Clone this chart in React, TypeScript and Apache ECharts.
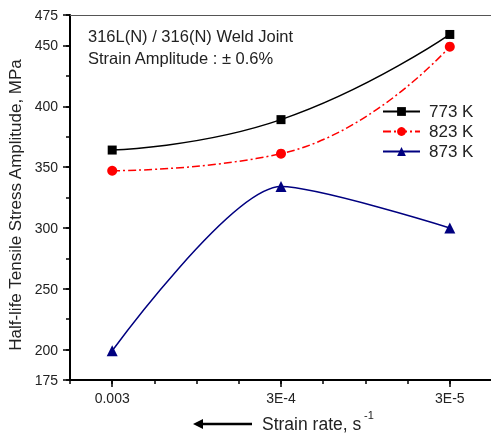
import React, { useEffect, useRef } from 'react';
import * as echarts from 'echarts';

const strainRates = ['0.003', '3E-4', '3E-5'];
const xTickLabels = ['', '0.003', '', '', '', '3E-4', '', '', '', '3E-5', ''];
const yTickLabels = ['175', '200', '', '250', '', '300', '', '350', '', '400', '', '450', '475'];
const yTickValues = [175, 200, 225, 250, 275, 300, 325, 350, 375, 400, 425, 450, 475];
const seriesNames = ['773 K', '823 K', '873 K'];
const stress773 = [364, 389, 459];
const stress823 = [347, 361, 449];
const stress873 = [199, 334, 300];
const noteLines = ['316L(N) / 316(N) Weld Joint', 'Strain Amplitude : \u00B1 0.6%'];
const yTitle = 'Half-life Tensile Stress Amplitude, MPa';
const xTitle = 'Strain rate, s';
const xTitleSup = '-1';

const FONT = 'Liberation Sans, Arial, sans-serif';
const TXT = '#222';

export default function App() {
  const ref = useRef<HTMLDivElement>(null);
  useEffect(() => {
    if (!ref.current) return;
    const chart = echarts.init(ref.current, undefined, { renderer: 'svg' });
    const toPts = (vals: number[]) =>
      vals.map((v, i) => [xTickLabels.indexOf(strainRates[i]), v]);
    const xCat = xTickLabels.map((_, i) => 'x' + i);
    const yCat = yTickValues.map((v) => String(v));
    const xMax = xTickLabels.length - 1;
    const yMin = yTickValues[0];
    const yMax = yTickValues[yTickValues.length - 1];
    chart.setOption({
      animation: false,
      textStyle: { fontFamily: FONT },
      grid: { left: 70, top: 15, width: 422, height: 365, containLabel: false, outerBoundsMode: 'none' },
      legend: {
        orient: 'vertical',
        left: 382,
        top: 103,
        padding: 0,
        itemWidth: 37,
        itemHeight: 11,
        itemGap: 3,
        data: seriesNames,
        textStyle: { fontSize: 17, color: TXT, fontFamily: FONT, padding: [0, 0, 0, 4] },
      },
      xAxis: [
        {
          type: 'value', min: 0, max: xMax, interval: 1, position: 'bottom',
          axisLine: { show: true, lineStyle: { color: '#000', width: 2 } },
          axisTick: { show: true, length: 4, lineStyle: { color: '#000', width: 1.5 } },
          axisLabel: { show: false }, splitLine: { show: false },
        },
        {
          type: 'category', data: xCat, boundaryGap: false, position: 'bottom',
          axisLine: { show: false },
          axisTick: { show: true, length: 7, interval: (i: number) => xTickLabels[i] !== '', lineStyle: { color: '#000', width: 1.5 } },
          axisLabel: {
            interval: 0, fontSize: 14, color: TXT, margin: 11, fontFamily: FONT,
            formatter: (v: string) => xTickLabels[Number(v.slice(1))],
          },
          splitLine: { show: false },
        },
        {
          type: 'value', min: 0, max: xMax, position: 'top',
          axisLine: { show: true, lineStyle: { color: '#555', width: 1 } },
          axisTick: { show: false }, axisLabel: { show: false }, splitLine: { show: false },
        },
      ],
      yAxis: [
        {
          type: 'value', min: yMin, max: yMax, interval: 25, position: 'left',
          axisLine: { show: true, lineStyle: { color: '#000', width: 2 } },
          axisTick: { show: true, length: 4, lineStyle: { color: '#000', width: 1.5 } },
          axisLabel: { show: false }, splitLine: { show: false },
        },
        {
          type: 'category', data: yCat, boundaryGap: false, position: 'left',
          axisLine: { show: false },
          axisTick: { show: true, length: 7, interval: (i: number) => yTickLabels[i] !== '', lineStyle: { color: '#000', width: 1.5 } },
          axisLabel: {
            interval: 0, fontSize: 14, color: TXT, margin: 12, fontFamily: FONT,
            formatter: (v: string) => yTickLabels[yCat.indexOf(v)],
          },
          splitLine: { show: false },
        },
      ],
      series: [
        {
          name: seriesNames[0], type: 'line', xAxisIndex: 0, yAxisIndex: 0,
          data: toPts(stress773), smooth: 0.5, symbol: 'rect', symbolSize: 9,
          lineStyle: { color: '#000', width: 1.5 }, itemStyle: { color: '#000' },
        },
        {
          name: seriesNames[1], type: 'line', xAxisIndex: 0, yAxisIndex: 0,
          data: toPts(stress823), smooth: 0.5, symbol: 'circle', symbolSize: 10,
          lineStyle: { color: '#ff0000', width: 1.5, type: [8, 3, 2, 3] }, itemStyle: { color: '#ff0000' },
        },
        {
          name: seriesNames[2], type: 'line', xAxisIndex: 0, yAxisIndex: 0,
          data: toPts(stress873), smooth: 0.25, symbol: 'triangle', symbolSize: 11,
          lineStyle: { color: '#000080', width: 1.5 }, itemStyle: { color: '#000080' },
        },
      ],
      graphic: [
        { type: 'text', left: 88, top: 27, style: { text: noteLines[0], fontSize: 16.5, fill: TXT, fontFamily: FONT } },
        { type: 'text', left: 88, top: 49, style: { text: noteLines[1], fontSize: 16.5, fill: TXT, fontFamily: FONT } },
        {
          type: 'text', x: 15, y: 205, rotation: Math.PI / 2,
          style: { text: yTitle, fontSize: 17, fill: TXT, fontFamily: FONT, align: 'center', verticalAlign: 'middle' },
        },
        { type: 'text', x: 262, y: 424, style: { text: xTitle, fontSize: 17.5, fill: TXT, fontFamily: FONT, verticalAlign: 'middle' } },
        { type: 'text', x: 364, y: 415, style: { text: xTitleSup, fontSize: 11, fill: TXT, fontFamily: FONT, verticalAlign: 'middle' } },
        { type: 'line', shape: { x1: 200, y1: 424, x2: 252, y2: 424 }, style: { stroke: '#000', lineWidth: 2.5 } },
        { type: 'polygon', shape: { points: [[193, 424], [203, 419], [203, 429]] }, style: { fill: '#000' } },
      ],
    });
    return () => chart.dispose();
  }, []);
  return <div ref={ref} style={{ position: 'fixed', left: 0, top: 0, width: 491, height: 435 }} />;
}
